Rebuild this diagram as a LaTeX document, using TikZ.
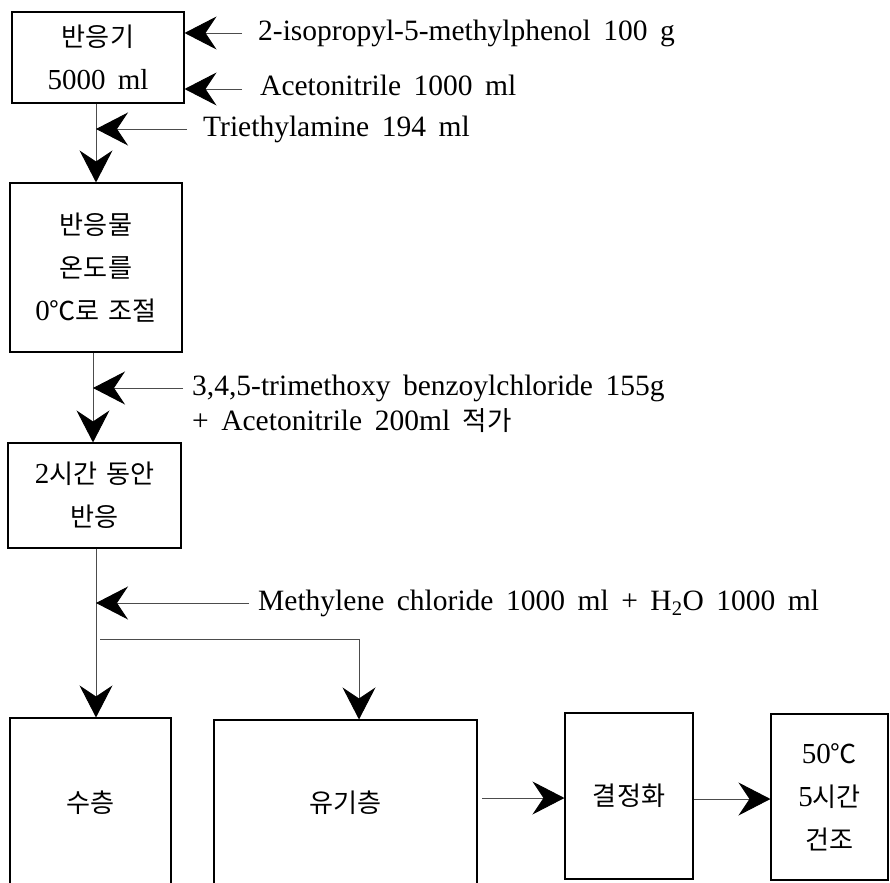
\documentclass[tikz,border=0pt]{standalone}
\usepackage{fontspec}
\setmainfont{Liberation Serif}[WordSpace=1.7]
\newfontfamily\korfont{Noto Sans CJK KR}[Scale=0.9,WordSpace=1.5]
\newcommand\kor[1]{{\korfont #1}}
\usetikzlibrary{arrows.meta}
\begin{document}
\begin{tikzpicture}[x=1pt,y=-1pt,
  box/.style={draw=black, line width=1.1pt, align=center, inner sep=0pt, font=\fontsize{29}{43}\selectfont},
  lbl/.style={anchor=base west, inner sep=0pt, font=\fontsize{29.5}{35}\selectfont},
  conn/.style={draw=black!70, line width=0.9pt, -{Stealth[length=32pt,width=33pt,inset=11pt,color=black]}}]
\useasboundingbox (0,0) rectangle (890,882);
\clip (0,0) rectangle (890,882);
% boxes
\node[box, minimum width=172pt, minimum height=91pt] (b1) at (98,57.5) {\kor{반응기}\\5000 ml};
\node[box, minimum width=172pt, minimum height=169pt] (b2) at (96,267.5) {\kor{반응물}\\\kor{온도를}\\0\kor{℃로 조절}};
\node[box, minimum width=173pt, minimum height=105pt] (b3) at (94.5,495.5) {2\kor{시간 동안}\\\kor{반응}};
\node[box, minimum width=161pt, minimum height=170pt] (b4) at (90.5,803) {\kor{수층}};
\node[box, minimum width=263pt, minimum height=166pt] (b5) at (345.5,803) {\kor{유기층}};
\node[box, minimum width=128pt, minimum height=166pt] (b6) at (629,796) {\kor{결정화}};
\node[box, minimum width=117pt, minimum height=166pt] (b7) at (829.5,797) {50\kor{℃}\\5\kor{시간}\\\kor{건조}};
% labels
\node[lbl] (l1) at (258,41) {2-isopropyl-5-methylphenol 100 g};
\node[lbl] (l2) at (260,96) {Acetonitrile 1000 ml};
\node[lbl] (l3) at (203,137) {Triethylamine 194 ml};
\node[lbl] (l4) at (192,395) {3,4,5-trimethoxy benzoylchloride 155g};
\node[lbl] (l5) at (192,430) {+ Acetonitrile 200ml \kor{적가}};
\node[lbl] (l6) at (258,610) {Methylene chloride 1000 ml + H\textsubscript{2}O 1000 ml};
% connectors
\coordinate (s1) at (242,33);
\coordinate (s2) at (242,89);
\coordinate (s3) at (187,129);
\coordinate (s4) at (183,388);
\coordinate (s5) at (249,603);
\coordinate (s6) at (100,639);
\coordinate (s7) at (482,798);
\coordinate (s8) at (0,799);
\coordinate (x2) at (93,0);
\coordinate (x3) at (96,0);
\coordinate (x5) at (359,0);
\draw[conn] (s1) -- (s1 -| b1.east);
\draw[conn] (s2) -- (s2 -| b1.east);
\draw[conn] (b2.north |- b1.south) -- (b2.north);
\draw[conn] (s3) -- (s3 -| b2.north);
\draw[conn] (b2.south -| x2) -- (b3.north -| x2);
\draw[conn] (s4) -- (s4 -| x2);
\draw[conn] (b3.south -| x3) -- (b4.north -| x3);
\draw[conn] (s5) -- (s5 -| x3);
\draw[conn] (s6) -| (b5.north -| x5);
\draw[conn] (s7) -- (s7 -| b6.west);
\draw[conn] (b6.east |- s8) -- (b7.west |- s8);
\end{tikzpicture}
\end{document}
